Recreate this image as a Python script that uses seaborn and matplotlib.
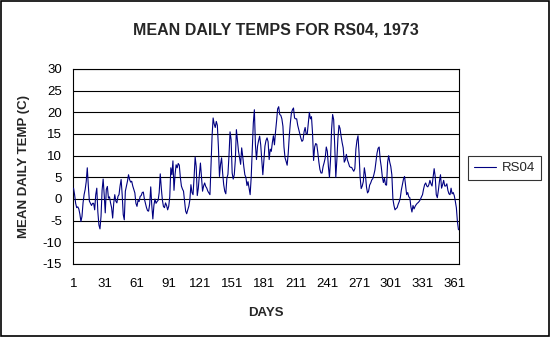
import numpy as np
import pandas as pd
import matplotlib
matplotlib.use("Agg")
import matplotlib.pyplot as plt
import seaborn as sns
from matplotlib.patches import Rectangle

# ---- data ----
days = list(range(1, 366))
temps = [
    2.5, 1.0, -1.0, -2.0, -1.8, -2.3, -3.5, -5.2, -4.0, -0.9,
    1.0, 2.2, 4.0, 7.2, 3.0, -0.5, -1.0, -1.5, -1.0, -1.0,
    -2.5, 1.0, 2.5, -3.0, -6.0, -6.9, -4.0, 2.0, 4.6, 1.0,
    -3.2, 2.2, 2.9, 0.2, 0.5, -0.9, -2.0, -4.4, -1.0, 1.0,
    -0.5, -0.9, 0.6, 1.0, 3.0, 4.5, 1.0, -3.6, -4.8, 1.8,
    3.0, 4.1, 5.6, 4.5, 3.9, 4.1, 3.0, 2.2, 1.4, -1.0,
    -1.7, -0.3, -0.6, 0.6, 0.8, 1.5, 1.6, 0.0, -1.0, -2.0,
    -2.7, -2.8, -1.2, 2.8, -1.5, -4.6, -1.5, 0.0, -1.0, -0.6,
    -0.3, 1.5, 5.8, 2.5, -0.2, -1.7, -2.0, -0.9, -1.5, -2.5,
    -1.7, 0.5, 7.2, 5.6, 8.8, 2.0, 5.6, 7.9, 7.2, 8.2,
    7.8, 5.0, 3.0, 2.3, 1.8, -0.5, -2.8, -3.4, -2.5, -1.7,
    -0.2, 3.3, 1.5, 1.0, 5.0, 9.7, 7.5, 0.8, 2.5, 5.6,
    8.3, 5.0, 1.8, 3.0, 3.7, 2.9, 2.5, 1.8, 1.4, 1.0,
    8.0, 14.5, 18.7, 17.3, 16.5, 17.9, 17.0, 12.0, 5.2, 8.0,
    9.5, 6.0, 3.3, 1.8, 1.2, 4.8, 5.7, 10.0, 15.5, 13.7,
    6.0, 4.6, 5.6, 9.0, 16.0, 13.5, 11.0, 9.5, 8.0, 11.8,
    9.8, 7.5, 5.6, 5.0, 3.1, 4.0, 2.5, 1.0, 5.0, 11.0,
    17.5, 20.6, 12.5, 9.1, 12.2, 13.5, 14.5, 12.5, 9.1, 5.6,
    9.0, 12.2, 13.5, 14.1, 13.2, 9.1, 11.5, 11.0, 13.0, 14.6,
    12.5, 15.5, 18.0, 20.8, 21.3, 19.5, 19.3, 18.5, 16.8, 12.0,
    9.5, 8.7, 7.8, 10.5, 14.5, 17.5, 19.8, 20.6, 21.0, 18.7,
    18.5, 18.5, 17.0, 16.0, 15.0, 14.0, 13.3, 13.6, 15.5, 16.5,
    15.0, 15.0, 17.5, 20.0, 18.5, 19.0, 15.2, 8.9, 12.0, 12.8,
    12.6, 10.7, 8.5, 6.8, 6.0, 6.0, 7.5, 8.4, 9.5, 12.0,
    11.0, 7.5, 5.0, 9.0, 16.0, 19.5, 18.3, 12.2, 5.0, 9.0,
    14.0, 17.0, 16.3, 14.5, 13.0, 11.8, 8.5, 9.0, 10.3, 9.0,
    8.3, 7.5, 7.3, 7.3, 6.8, 6.4, 7.0, 11.5, 13.5, 14.6,
    10.5, 5.0, 2.4, 3.0, 4.0, 7.2, 5.6, 2.8, 1.4, 1.8,
    3.2, 3.7, 4.4, 4.7, 5.6, 6.7, 8.7, 10.6, 11.7, 12.0,
    9.1, 7.4, 5.1, 3.8, 4.8, 3.3, 3.2, 8.5, 10.0, 8.5,
    7.5, 5.6, 0.0, -1.5, -2.5, -2.2, -2.0, -1.2, -0.6, 0.3,
    2.1, 3.3, 4.6, 5.2, 3.0, 1.0, 1.5, 0.5, 0.3, -1.8,
    -3.0, -1.5, -2.3, -1.7, -1.3, -1.0, -0.8, -0.5, -0.1, 0.5,
    1.0, 2.3, 3.3, 3.7, 3.0, 2.8, 3.3, 4.3, 3.5, 3.0,
    5.1, 7.0, 5.2, 1.0, 0.3, 2.0, 4.1, 5.6, 2.5, 3.3,
    4.3, 3.0, 3.0, 3.5, 2.0, 1.2, 1.0, 2.5, 1.2, 1.5,
    0.8, -0.5, -2.0, -5.2, -7.1,
]
series_name = "RS04"
x_tick_labels = [1, 31, 61, 91, 121, 151, 181, 211, 241, 271, 301, 331, 361]
y_ticks = [-15, -10, -5, 0, 5, 10, 15, 20, 25, 30]

df = pd.DataFrame({"DAYS": days, "TEMP": temps})

# ---- style ----
sns.set_style("white")
plt.rcParams["font.family"] = ["Liberation Sans", "DejaVu Sans"]

W, H = 551, 337
fig = plt.figure(figsize=(W / 100, H / 100), dpi=100)
fig.patch.set_facecolor("white")

L, R, T, B = 73, 459, 69, 264
ax = fig.add_axes([L / W, 1 - B / H, (R - L) / W, (B - T) / H])
ax.set_facecolor("white")

sns.lineplot(data=df, x="DAYS", y="TEMP", ax=ax, color="#000080",
             linewidth=0.8, label=series_name, legend=False, zorder=3)

ax.set_xlim(0.5, 365.5)
ax.set_ylim(-15, 30)
ax.set_xticks(x_tick_labels)
ax.set_xticklabels([str(v) for v in x_tick_labels])
ax.set_yticks(y_ticks)
ax.set_yticklabels([str(v) for v in y_ticks])
ax.yaxis.grid(True, color="black", linewidth=0.8)
ax.set_axisbelow(True)
for s in ax.spines.values():
    s.set_visible(True)
    s.set_color("black")
    s.set_linewidth(0.8)
ax.tick_params(axis="both", direction="out", length=4, width=0.8,
               colors="black", labelsize=9.5, pad=4)
ax.tick_params(axis="x", pad=6)

ax.set_xlabel("DAYS", fontsize=9.5, fontweight="bold")
ax.xaxis.set_label_coords(0.5, -0.22)
ax.set_ylabel("MEAN DAILY TEMP (C)", fontsize=9.5, fontweight="bold")
ax.yaxis.set_label_coords(-0.111, 0.5)

fig.text(0.5, 1 - 30 / H, "MEAN DAILY TEMPS FOR RS04, 1973",
         ha="center", va="center", fontsize=11.5, fontweight="bold")

handles, labels = ax.get_legend_handles_labels()
leg = fig.legend(handles, labels, loc="center left",
                 bbox_to_anchor=(468 / W, 1 - 168 / H),
                 frameon=True, fancybox=False, shadow=False,
                 fontsize=9.5, handlelength=1.7, handletextpad=0.4,
                 borderpad=0.45, borderaxespad=0)
leg.get_frame().set_edgecolor("black")
leg.get_frame().set_linewidth(0.8)

# outer chart border
fig.patches.append(Rectangle((0.002, 0.003), 0.995, 0.994,
                             transform=fig.transFigure, fill=False,
                             edgecolor="black", linewidth=1.2))

fig.savefig("out.png", dpi=100)
